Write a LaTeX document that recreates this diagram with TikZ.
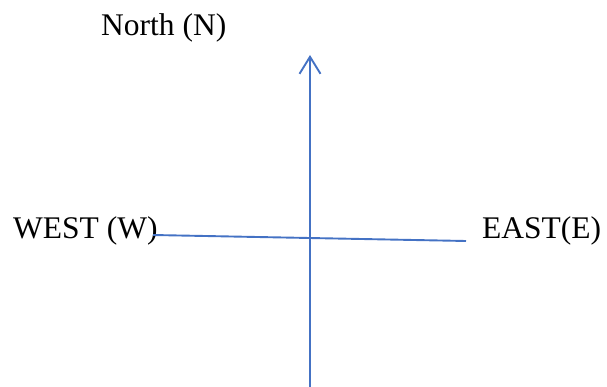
\documentclass[tikz,border=0pt]{standalone}
\usepackage{fontspec}
\setmainfont{Liberation Serif}
\usetikzlibrary{arrows.meta}
\definecolor{axisblue}{RGB}{68,114,196}

\begin{document}
\begin{tikzpicture}[x=1pt,y=-1pt,
    label/.style={anchor=base west,inner sep=0pt,font=\fontsize{31.5}{36}\selectfont},
    axis/.style={axisblue,line width=1.9pt}]
  \useasboundingbox (0,0) rectangle (607,387);

  % Labels
  \node[label] (north) at (101,36) {North (N)};
  \node[label] (west) at (13,239) {WEST (W)};
  \node[label] (east) at (482,239) {EAST(E)};

  % Ends of the axes
  \coordinate (ntip) at (310,55);
  \coordinate (sbase) at (310,387);
  \coordinate (wend) at (153,235);
  \coordinate (eend) at (466,241);

  % Axes
  \draw[axis,-{Straight Barb[length=17pt,width=21pt]}] (sbase) -- (ntip);
  \draw[axis] (wend) -- (eend);
\end{tikzpicture}
\end{document}
